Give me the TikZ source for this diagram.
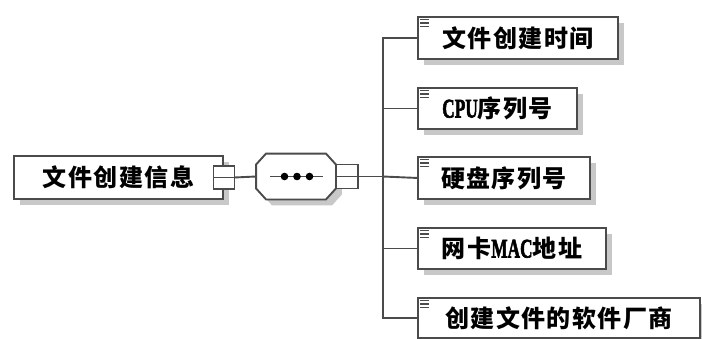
\documentclass[tikz,border=0pt]{standalone}
\usepackage{fontspec}
\usepackage{graphicx}
\setmainfont{Liberation Serif}
\newfontfamily\latf{Liberation Serif}[BoldFeatures={FakeBold=2.5}]
\newfontfamily\cjk{Noto Sans CJK SC}[LetterSpace=6]
\usetikzlibrary{shadows,calc}
\definecolor{lc}{RGB}{75,75,75}
\definecolor{shc}{RGB}{200,200,200}
\newcommand\lat[1]{{\latf\bfseries\fontsize{27}{28}\selectfont\scalebox{0.64}[1]{#1}}}
\begin{document}
\begin{tikzpicture}[x=1pt,y=-1pt,line width=1.9pt,
  box/.style={draw=lc,fill=white,anchor=north west,inner sep=0pt,line width=1.9pt,
    general shadow={fill=shc,shadow xshift=6pt,shadow yshift=-6pt},
    font=\cjk\bfseries\fontsize{24}{28}\selectfont},
  minusbox/.style={draw=lc,fill=white,inner sep=0pt,minimum width=21pt,minimum height=23pt,line width=1.6pt,
    path picture={\draw[lc,line width=1.5pt] (path picture bounding box.west) -- (path picture bounding box.east);}},
  conn/.style={draw=lc,line width=1.9pt},
  icon/.style={draw=lc,line width=1.6pt}]
\useasboundingbox (0,0) rectangle (702,338);
% root
\node[box,minimum width=209pt,minimum height=43pt] (root) at (13,155) {文件创建信息};
\node[minusbox] (rm) at (root.east) {};
% sequence compositor
\node[inner sep=0pt,minimum width=78pt,minimum height=44pt] (seq) at (296,176.5) {};
\fill[shc] ($(seq.north west)+(16,6)$) -- ($(seq.north east)+(-4,6)$) -- ($(seq.north east)+(6,17)$)
  -- ($(seq.south east)+(6,-5)$) -- ($(seq.south east)+(-4,6)$) -- ($(seq.south west)+(16,6)$)
  -- ($(seq.south west)+(6,-5)$) -- ($(seq.north west)+(6,17)$) -- cycle;
\draw[lc,fill=white] ($(seq.north west)+(10,0)$) -- ($(seq.north east)+(-10,0)$) -- ($(seq.north east)+(0,11)$)
  -- ($(seq.south east)+(0,-11)$) -- ($(seq.south east)+(-10,0)$) -- ($(seq.south west)+(10,0)$)
  -- ($(seq.south west)+(0,-11)$) -- ($(seq.north west)+(0,11)$) -- cycle;
\draw[lc,line width=1.5pt] ($(seq.center)+(-26,0)$) -- ($(seq.center)+(27,0)$);
\foreach \d in {-11.5,1,13.5} \fill[black] ($(seq.center)+(\d,0)$) circle (3.8pt);
\node[minusbox,minimum width=22pt,minimum height=24pt] (sm) at (347,176.5) {};
\coordinate (spine) at (383,176.5);
% children
\node[box,minimum width=200pt,minimum height=42pt] (c1) at (417,16) {文件创建时间};
\node[box,minimum width=159pt,minimum height=41pt] (c2) at (417,87) {\lat{CPU}序列号};
\node[box,minimum width=172pt,minimum height=42pt] (c3) at (417,156) {硬盘序列号};
\node[box,minimum width=188pt,minimum height=41pt] (c4) at (417,227) {网卡\lat{MAC}地址};
\node[box,minimum width=282pt,minimum height=40pt] (c5) at (417,297) {创建文件的软件厂商};
\foreach \c in {c1,c2,c3,c4,c5}{
  \foreach \dy in {3.5,7,10.5}
    \draw[icon] ([shift={(3,\dy)}]\c.north west) -- ++(9,0);
}
% connectors
\draw[conn] (rm.east) -- (seq.west);
\draw[conn] (sm.east) -- (spine);
\draw[conn] (spine) |- (c1.west);
\draw[conn] (spine) |- (c2.west);
\draw[conn] (spine) -- (c3.west);
\draw[conn] (spine) |- (c4.west);
\draw[conn] (spine) |- (c5.west);
\end{tikzpicture}
\end{document}
